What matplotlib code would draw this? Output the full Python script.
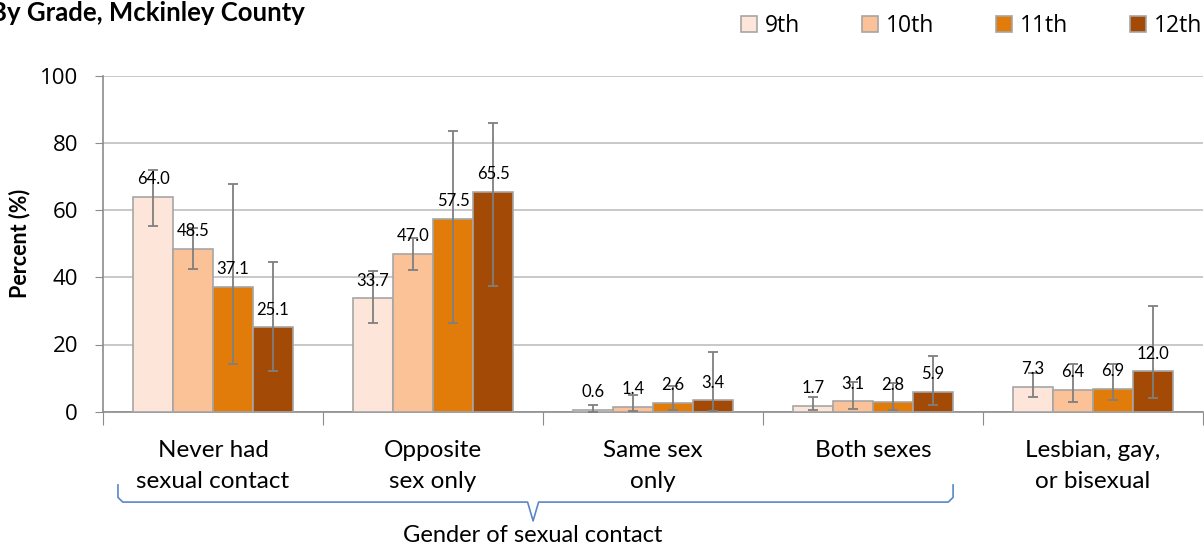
import numpy as np
import matplotlib
matplotlib.use("Agg")
from matplotlib import pyplot as plt
from matplotlib.patches import Patch
from matplotlib.transforms import blended_transform_factory

# Chart data
categories = ["Never had\nsexual contact", "Opposite\nsex only", "Same sex\nonly",
              "Both sexes", "Lesbian, gay,\nor bisexual"]
grades = ["9th", "10th", "11th", "12th"]
values = {
    "9th":  [64.0, 33.7, 0.6, 1.7, 7.3],
    "10th": [48.5, 47.0, 1.4, 3.1, 6.4],
    "11th": [37.1, 57.5, 2.6, 2.8, 6.9],
    "12th": [25.1, 65.5, 3.4, 5.9, 12.0],
}
ci_low = {
    "9th":  [55.4, 26.5, 0.0, 0.4, 4.5],
    "10th": [42.6, 42.2, 0.1, 0.7, 2.9],
    "11th": [14.2, 26.5, 0.6, 0.5, 3.4],
    "12th": [12.2, 37.5, 0.2, 2.0, 4.0],
}
ci_high = {
    "9th":  [71.9, 41.9, 2.1, 4.5, 11.4],
    "10th": [54.6, 51.6, 5.1, 8.9, 14.2],
    "11th": [67.7, 83.5, 7.6, 8.6, 14.2],
    "12th": [44.6, 85.8, 17.9, 16.6, 31.6],
}
colors = ["#FDE6D9", "#FBC197", "#E17C0B", "#A24A06"]

W, H = 1204, 546
fig = plt.figure(figsize=(W / 100, H / 100), dpi=100)
ax = fig.add_axes([103 / W, 1 - 411.7 / H, 1100 / W, 336 / H])

x = np.arange(len(categories)) + 0.5
bw = 40 / 220
for i, g in enumerate(grades):
    v = np.array(values[g])
    err = [v - np.array(ci_low[g]), np.array(ci_high[g]) - v]
    pos = x + (i - 1.5) * bw
    ax.bar(pos, v, width=bw, color=colors[i], edgecolor="#A6A6A6", linewidth=1.2,
           yerr=err, zorder=3,
           error_kw=dict(ecolor="#7F7F7F", elinewidth=1.3, capsize=3.5, capthick=1.3, zorder=4))
    for px, val in zip(pos, v):
        ax.annotate(f"{val:.1f}", (px, val), xytext=(0, 7), textcoords="offset points",
                    ha="center", va="bottom", fontsize=12, family="Lato", zorder=5)

ax.set_xlim(0, 5)
ax.set_ylim(0, 100)
ax.set_yticks(range(0, 101, 20))
ax.set_xticks(range(6))
ax.set_xticklabels([])
ax.yaxis.grid(True, color="#BFBFBF", linewidth=1.2, zorder=0)
for s in ["top", "right"]:
    ax.spines[s].set_visible(False)
for s in ["left", "bottom"]:
    ax.spines[s].set_color("#8C8C8C")
    ax.spines[s].set_linewidth(1.2)
ax.tick_params(axis="y", length=6, color="#8C8C8C", labelsize=16, pad=12)
ax.tick_params(axis="x", length=9, color="#8C8C8C")
for lab in ax.get_yticklabels():
    lab.set_family("Open Sans")

# category labels
trans = blended_transform_factory(ax.transData, ax.transAxes)
for xc, c in zip(x, categories):
    ax.text(xc, -0.083, c, transform=trans, ha="center", va="top", fontsize=17.5,
            family="Lato", linespacing=1.6)

# bracket under the first four categories
bx = [0.068, 0.068, 0.09, 1.93, 1.955, 1.98, 3.842, 3.864, 3.864]
by = [-0.218, -0.255, -0.269, -0.269, -0.325, -0.269, -0.269, -0.255, -0.218]
ax.plot(bx, by, transform=trans, color="#5A87C6", linewidth=1.2, clip_on=False)
ax.text(1.955, -0.367, "Gender of sexual contact", transform=trans, ha="center",
        va="center", fontsize=17, family="Lato")

ax.set_ylabel("Percent (%)", fontsize=15.5, fontweight="bold", family="Lato", labelpad=7)

fig.text(-0.008, 0.976, "By Grade, Mckinley County", ha="left", va="center",
         fontsize=18.5, fontweight="bold", family="Lato")

handles = [Patch(facecolor=c, edgecolor="#A6A6A6", linewidth=1.2) for c in colors]
leg = fig.legend(handles, grades, loc="upper right", bbox_to_anchor=(1.016, 1.012), ncol=4,
                 frameon=False, handlelength=0.7, handleheight=0.7,
                 handletextpad=0.35, columnspacing=2.7, prop={"family": "Open Sans", "size": 16.5})

fig.savefig("out.png", dpi=100)
plt.close()
